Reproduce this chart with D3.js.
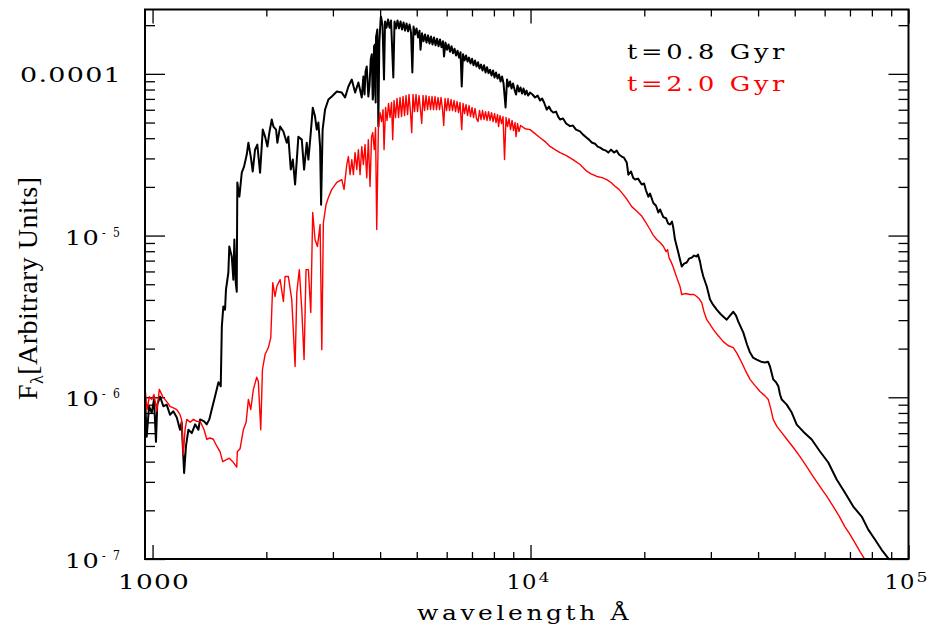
<!DOCTYPE html>
<html>
<head>
<meta charset="utf-8">
<script src="https://cdn.jsdelivr.net/npm/d3@7"></script>
<style>
  html, body { margin: 0; padding: 0; background: #ffffff; }
  svg { display: block; }
</style>
</head>
<body>
<svg id="chart" width="937" height="631"></svg>
<script>
// Spectral energy distributions of two stellar populations.
// Each entry: [wavelength in Angstrom, F_lambda in units of 1e-6 (arbitrary)].
const FLUX_UNIT = 1e-6;

const seriesNames = ["t=0.8 Gyr", "t=2.0 Gyr"];
const seriesColors = ["#000000", "#ff0000"];

const spectrumYoung = [
  [955,1.00],[965,0.57],[979,0.88],[995,0.80],[1009,0.97],[1021,0.53],[1029,0.90],[1047,1.01],
  [1068,0.88],[1090,0.90],[1112,0.78],[1135,0.82],[1159,0.75],[1182,0.63],[1194,0.70],[1212,0.34],
  [1226,0.50],[1244,0.63],[1270,0.60],[1296,0.68],[1322,0.63],[1336,0.73],[1369,0.71],[1391,0.68],
  [1413,0.73],[1434,0.84],[1463,1.01],[1494,1.24],[1515,1.17],[1525,2.74],[1539,3.64],[1555,3.48],
  [1564,4.63],[1587,5.91],[1596,8.56],[1620,7.42],[1636,5.34],[1646,9.45],[1660,5.12],[1670,4.50],
  [1676,21.3],[1697,17.4],[1722,24.5],[1746,26.7],[1775,31.7],[1793,37.5],[1819,30.8],[1841,24.9],
  [1867,34.0],[1893,36.5],[1925,24.5],[1957,45.2],[1985,40.9],[2013,35.5],[2037,43.3],[2067,52.2],
  [2088,47.2],[2122,45.2],[2139,37.5],[2175,47.2],[2219,44.0],[2265,37.5],[2287,40.9],[2321,25.6],
  [2350,29.5],[2383,20.7],[2408,29.5],[2431,40.9],[2482,39.2],[2517,25.6],[2558,37.5],[2584,29.5],
  [2622,43.3],[2654,61.8],[2691,54.4],[2719,45.2],[2746,50.0],[2775,35.5],[2792,15.5],[2818,45.2],
  [2860,60.1],[2919,69.4],[2980,72.4],[3072,77.7],[3167,76.6],[3231,71.4],[3297,83.5],[3366,92.2],
  [3434,76.6],[3504,88.4],[3577,71.4],[3612,96.2],[3638,74.5],[3660,103],[3687,111],[3723,72.4],
  [3751,85.9],[3778,123],[3801,132],[3824,69.4],[3838,74.5],[3854,148],[3878,152],[3892,66.5],
  [3902,170],[3921,180],[3933,188],[3957,47.2],[3981,156],[4015,223],
  [4022,226],[4059,199],[4096,92.2],[4122,211],[4160,193],[4198,217],[4236,193],[4275,214],
  [4335,94.9],[4367,211],[4407,191],[4447,214],[4488,191],[4530,211],[4571,188],[4614,208],
  [4656,185],[4699,205],[4742,183],[4785,202],[4829,180],[4868,102],[4903,196],[4948,175],
  [4993,191],[5039,168],[5085,185],[5116,141],[5163,178],[5211,159],[5259,175],[5307,156],
  [5356,173],[5405,154],[5454,170],[5505,152],[5555,168],[5606,150],[5658,165],[5710,148],
  [5762,163],[5815,146],[5868,159],[5904,128],[5958,156],[6013,141],[6068,152],[6124,137],
  [6180,148],[6237,134],[6294,143],[6352,130],[6410,139],[6469,126],[6528,136],[6576,83.5],
  [6628,132],[6690,121],[6751,130],[6813,119],[6875,126],[6938,116],[7002,124],[7066,113],
  [7131,121],[7197,111],[7263,118],[7330,108],[7397,114],[7465,105],[7533,113],[7603,102],
  [7672,110],[7743,101],[7814,106],[7886,97.6],[7958,105],[8031,94.9],[8104,102],[8180,93.6],
  [8254,99.0],[8330,89.7],[8407,96.3],[8485,87.1],[8589,61.9],[8668,92.2],[8747,83.5],[8826,89.7],
  [8908,81.1],[8989,87.1],[9072,79.9],[9155,74.5],[9239,84.7],[9323,77.7],[9409,82.3],[9495,75.5],
  [9582,81.1],[9670,74.5],[9759,78.8],[9849,73.4],[9970,76.6],
  [10120,74.5],[10280,71.4],[10440,73.4],[10600,68.4],[10730,70.4],[10860,66.5],[11040,60.1],
  [11190,62.8],[11330,59.3],[11490,57.6],[11680,58.4],[11830,54.4],[11970,52.2],[12190,52.9],
  [12420,49.3],[12720,47.5],[12950,47.9],[13190,45.2],[13520,44.1],[13770,42.1],[14080,40.3],
  [14280,39.2],[14520,37.6],[14810,37.0],[15050,35.5],[15280,35.0],[15560,34.0],[15840,33.5],
  [16060,32.6],[16330,34.0],[16630,32.6],[16910,33.5],[17140,31.7],[17430,30.8],[17670,30.3],
  [17970,28.3],[18150,23.8],[18450,24.9],[18680,22.8],[18910,22.2],[19250,22.5],[19690,20.7],
  [19970,21.0],[20210,19.0],[20500,17.4],[20710,18.2],[21130,15.9],[21480,15.3],[21780,13.9],
  [22010,14.5],[22460,13.0],[22830,12.8],[23110,11.9],[23390,11.7],[23680,12.2],[23860,11.2],
  [24110,9.45],[24600,7.85],[25120,6.43],[25470,6.71],[25890,6.81],[26260,7.20],[26690,7.30],
  [27070,7.52],[27520,7.42],[27740,7.63],[28080,6.90],[28340,6.16],[28650,5.58],[29260,4.84],
  [29850,4.02],[30400,3.74],[31090,3.48],[31910,3.25],[33040,3.02],[33710,3.20],[34390,3.38],
  [34970,3.20],[35460,2.94],[36560,2.51],[37390,2.12],[38080,1.89],[38780,1.76],[39660,1.71],
  [40720,1.66],[41720,1.64],[42490,1.66],[43010,1.55],[43880,1.29],[44620,1.24],[45250,1.17],
  [45720,1.04],[46200,0.968],[47620,0.901],[49100,0.805],[50610,0.678],[52690,0.613],[55450,0.548],
  [58330,0.462],[61350,0.395],[64570,0.310],[67920,0.257],[71430,0.211],[75190,0.183],[78270,0.152],
  [81520,0.132],[84920,0.114],[88410,0.101],[90430,0.091]
];

const spectrumOld = [
  [955,1.15],[967,0.84],[981,1.01],[995,0.97],[1009,1.04],[1026,0.82],[1042,1.12],[1064,1.01],
  [1090,0.94],[1112,0.88],[1135,0.86],[1159,0.84],[1182,0.78],[1193,0.73],[1206,0.44],[1219,0.63],
  [1232,0.73],[1257,0.70],[1283,0.73],[1309,0.71],[1336,0.71],[1369,0.63],[1391,0.55],[1419,0.56],
  [1448,0.55],[1478,0.50],[1509,0.46],[1533,0.40],[1564,0.41],[1596,0.42],[1630,0.40],[1670,0.37],
  [1676,0.46],[1704,0.48],[1739,0.63],[1768,0.70],[1793,0.97],[1819,0.84],[1848,1.12],[1886,1.33],
  [1905,1.25],[1933,0.63],[1953,1.48],[1985,1.84],[2025,2.03],[2055,2.34],[2080,5.12],[2109,4.20],
  [2131,4.84],[2175,5.34],[2219,3.91],[2242,5.58],[2287,5.58],[2335,4.02],[2383,1.55],[2408,4.44],
  [2445,6.16],[2482,3.48],[2517,1.71],[2547,6.16],[2584,6.16],[2622,3.34],[2653,13.9],[2691,9.45],
  [2730,8.55],[2775,11.7],[2804,1.97],[2831,12.0],[2877,15.5],[2919,17.2],[2980,19.3],[3072,21.3],
  [3167,22.2],[3211,19.3],[3265,27.5],[3297,30.8],[3331,23.8],[3366,29.5],[3399,23.8],[3434,32.6],
  [3470,25.6],[3504,34.0],[3540,23.8],[3577,35.5],[3612,27.5],[3649,36.5],[3687,22.8],[3723,39.2],
  [3762,20.1],[3797,40.9],[3824,43.3],[3861,34.0],[3890,46.5],[3918,10.9],[3957,45.2],[3998,57.6],
  [4035,50.7],[4072,60.1],[4097,34.0],[4135,61.9],[4173,51.5],[4210,65.6],[4249,53.7],[4288,66.5],
  [4319,39.2],[4353,68.4],[4394,53.7],[4434,70.4],[4475,53.7],[4516,71.4],[4558,54.4],[4599,72.4],
  [4642,55.2],[4684,73.4],[4728,56.0],[4770,74.5],[4814,57.6],[4849,43.3],[4887,74.5],[4933,58.4],
  [4978,74.5],[5024,58.4],[5070,73.4],[5117,59.3],[5154,49.3],[5195,73.4],[5243,59.3],[5291,73.4],
  [5340,60.1],[5388,72.4],[5438,60.1],[5488,72.4],[5538,60.1],[5589,72.4],[5640,60.1],[5692,71.4],
  [5745,60.1],[5797,71.4],[5851,60.1],[5893,47.9],[5940,70.4],[5995,59.3],[6049,70.4],[6106,59.3],
  [6161,69.4],[6218,59.3],[6275,68.4],[6333,58.4],[6391,67.4],[6449,57.6],[6508,66.5],[6576,45.2],
  [6628,65.6],[6690,56.8],[6751,64.6],[6813,55.2],[6875,63.7],[6938,54.4],[7002,61.9],[7066,53.7],
  [7131,61.1],[7197,52.9],[7262,50.7],[7330,59.3],[7397,52.2],[7465,59.3],[7533,52.2],[7603,58.4],
  [7672,51.5],[7743,58.4],[7814,51.5],[7886,57.6],[7958,50.7],[8031,56.8],[8104,50.0],[8179,56.0],
  [8230,47.2],[8305,55.2],[8381,49.3],[8458,54.4],[8535,29.5],[8613,53.7],[8693,47.2],[8772,52.9],
  [8853,45.2],[8935,51.5],[9016,44.6],[9099,50.0],[9155,40.9],[9239,49.3],[9323,44.0],[9409,47.9],
  [9670,45.8],[9970,45.2],[10280,42.7],[10600,40.3],[10930,38.1],[11260,35.6],[11610,34.0],
  [11970,32.6],[12410,31.3],[12950,29.5],[13520,27.5],[14080,25.0],[14460,24.1],[14980,23.2],
  [15470,22.8],[15910,22.2],[16330,21.3],[16730,20.2],[17140,19.3],[17600,17.9],[18010,16.7],
  [18530,15.1],[19020,14.3],[19690,13.2],[20210,12.0],[20710,10.9],[21090,10.1],[21570,9.45],
  [22010,9.05],[22460,8.59],[22830,7.96],[23040,8.19],[23250,7.30],[23530,6.90],[23820,6.43],
  [24110,5.91],[24480,5.34],[24860,4.84],[25120,4.32],[25630,4.38],[26420,4.32],[27070,4.32],
  [27520,4.20],[27910,4.08],[28370,3.85],[28770,3.38],[29260,3.02],[29850,2.82],[30460,2.62],
  [31340,2.41],[32360,2.21],[33300,2.09],[34390,2.03],[35180,1.87],[36200,1.64],[37160,1.44],
  [38080,1.29],[39260,1.18],[40470,1.085],[41720,1.02],[42570,0.968],[43270,0.839],[43880,0.728],
  [44890,0.659],[46200,0.605],[47710,0.548],[49580,0.489],[51640,0.430],[53790,0.373],[55890,0.324],
  [58330,0.280],[60870,0.243],[63250,0.211],[65480,0.185],[67920,0.158],[70010,0.142],[72170,0.126],
  [74420,0.111],[76720,0.0991],[78120,0.091]
];

// Axis extents and ticks
const xDomain = [955, 1e5];
const yDomain = [1e-7, 2.5e-4];
const xMajorTicks = [1000, 10000, 100000];
const xMinorTicks = [2000, 3000, 4000, 5000, 6000, 7000, 8000, 9000,
                     20000, 30000, 40000, 50000, 60000, 70000, 80000, 90000];
const yMajorTicks = [1e-7, 1e-6, 1e-5, 1e-4];
const yMinorTicks = [2e-7, 3e-7, 4e-7, 5e-7, 6e-7, 7e-7, 8e-7, 9e-7,
                     2e-6, 3e-6, 4e-6, 5e-6, 6e-6, 7e-6, 8e-6, 9e-6,
                     2e-5, 3e-5, 4e-5, 5e-5, 6e-5, 7e-5, 8e-5, 9e-5, 2e-4];
const xTickLabels = [
  { value: 1000, base: "1000", exp: null },
  { value: 10000, base: "10", exp: "4" },
  { value: 100000, base: "10", exp: "5" }
];
const yTickLabels = [
  { value: 1e-4, base: "0.0001", exp: null },
  { value: 1e-5, base: "10", exp: "-5" },
  { value: 1e-6, base: "10", exp: "-6" },
  { value: 1e-7, base: "10", exp: "-7" }
];
const xTitle = "wavelength Å";

// Layout
const plot = { left: 145, right: 908.5, top: 9.5, bottom: 559 };
const labelFont = "'DejaVu Serif', serif";
const titleFont = "'Liberation Serif', 'Times New Roman', serif";

const svg = d3.select("#chart");

const x = d3.scaleLog().domain(xDomain).range([plot.left, plot.right]);
const y = d3.scaleLog().domain(yDomain).range([plot.bottom, plot.top]);

svg.append("rect")
  .attr("width", 937).attr("height", 631).attr("fill", "#ffffff");

svg.append("defs").append("clipPath").attr("id", "plot-clip")
  .append("rect")
  .attr("x", plot.left).attr("y", plot.top)
  .attr("width", plot.right - plot.left).attr("height", plot.bottom - plot.top);

// Inward ticks on all four sides
function tickLayer(axis, transform) {
  const g = svg.append("g").attr("transform", transform).call(axis);
  g.select(".domain").remove();
  g.selectAll(".tick line").attr("stroke", "#000").attr("stroke-width", 1.3);
  g.selectAll(".tick text").remove();
  return g;
}
const xMajLen = 14, xMinLen = 7, yMajLen = 20, yMinLen = 10;
tickLayer(d3.axisBottom(x).tickValues(xMajorTicks).tickSize(-xMajLen).tickFormat(""), `translate(0,${plot.bottom})`);
tickLayer(d3.axisBottom(x).tickValues(xMinorTicks).tickSize(-xMinLen).tickFormat(""), `translate(0,${plot.bottom})`);
tickLayer(d3.axisTop(x).tickValues(xMajorTicks).tickSize(-xMajLen).tickFormat(""), `translate(0,${plot.top})`);
tickLayer(d3.axisTop(x).tickValues(xMinorTicks).tickSize(-xMinLen).tickFormat(""), `translate(0,${plot.top})`);
tickLayer(d3.axisLeft(y).tickValues(yMajorTicks).tickSize(-yMajLen).tickFormat(""), `translate(${plot.left},0)`);
tickLayer(d3.axisLeft(y).tickValues(yMinorTicks).tickSize(-yMinLen).tickFormat(""), `translate(${plot.left},0)`);
tickLayer(d3.axisRight(y).tickValues(yMajorTicks).tickSize(-yMajLen).tickFormat(""), `translate(${plot.right},0)`);
tickLayer(d3.axisRight(y).tickValues(yMinorTicks).tickSize(-yMinLen).tickFormat(""), `translate(${plot.right},0)`);

// Spectra
const line = d3.line()
  .x(d => x(d[0]))
  .y(d => y(d[1] * FLUX_UNIT));

const curves = svg.append("g").attr("clip-path", "url(#plot-clip)");
curves.append("path")
  .datum(spectrumYoung)
  .attr("d", line)
  .attr("fill", "none")
  .attr("stroke", seriesColors[0])
  .attr("stroke-width", 2)
  .attr("stroke-linejoin", "round");
curves.append("path")
  .datum(spectrumOld)
  .attr("d", line)
  .attr("fill", "none")
  .attr("stroke", seriesColors[1])
  .attr("stroke-width", 1.4)
  .attr("stroke-linejoin", "round");

// Frame
svg.append("rect")
  .attr("x", plot.left).attr("y", plot.top)
  .attr("width", plot.right - plot.left).attr("height", plot.bottom - plot.top)
  .attr("fill", "none").attr("stroke", "#000").attr("stroke-width", 2);

// Plotter-style text: wide glyphs with open spacing, stretched to a set width
function label(xPos, yPos, str, opts) {
  return svg.append("text")
    .attr("x", xPos).attr("y", yPos)
    .attr("text-anchor", opts.anchor || "start")
    .attr("font-family", opts.family || labelFont)
    .attr("font-size", opts.size || 21)
    .attr("letter-spacing", opts.spacing || 0)
    .attr("fill", opts.color || "#000")
    .attr("textLength", opts.width)
    .attr("lengthAdjust", "spacingAndGlyphs")
    .text(str);
}

// Y tick labels
yTickLabels.forEach(t => {
  const ty = y(t.value);
  if (!t.exp) {
    label(plot.left - 23, ty + 8, t.base, { anchor: "end", spacing: 1, width: 102 });
  } else {
    label(plot.left - 80, ty + 9, t.base, { spacing: 1, width: 35 });
    label(plot.left - 43, ty + 1, t.exp, { size: 12, spacing: 8, width: 25 });
  }
});

// X tick labels
xTickLabels.forEach(t => {
  const tx = x(t.value);
  if (!t.exp) {
    label(tx + 1.5, 589, t.base, { anchor: "middle", spacing: 1, width: 72 });
  } else {
    label(tx - 24, 589, t.base, { spacing: 1, width: 31 });
    label(tx + 8, 582, t.exp, { size: 13, width: 11 });
  }
});

// Axis titles
label(417, 620, xTitle, { spacing: 3, width: 215 });

const yTitle = svg.append("text")
  .attr("transform", "translate(37,400) rotate(-90)")
  .attr("font-family", titleFont).attr("font-size", 28)
  .attr("textLength", 223).attr("lengthAdjust", "spacing");
yTitle.append("tspan").text("F");
yTitle.append("tspan").attr("font-size", 18).attr("dy", 6).text("λ");
yTitle.append("tspan").attr("dy", -6).text("[Arbitrary Units]");

// Legend
const legendY = [59, 91];
seriesNames.forEach((name, i) => {
  label(627, legendY[i], name, { spacing: 3, width: 161, color: seriesColors[i] });
});
</script>
</body>
</html>
